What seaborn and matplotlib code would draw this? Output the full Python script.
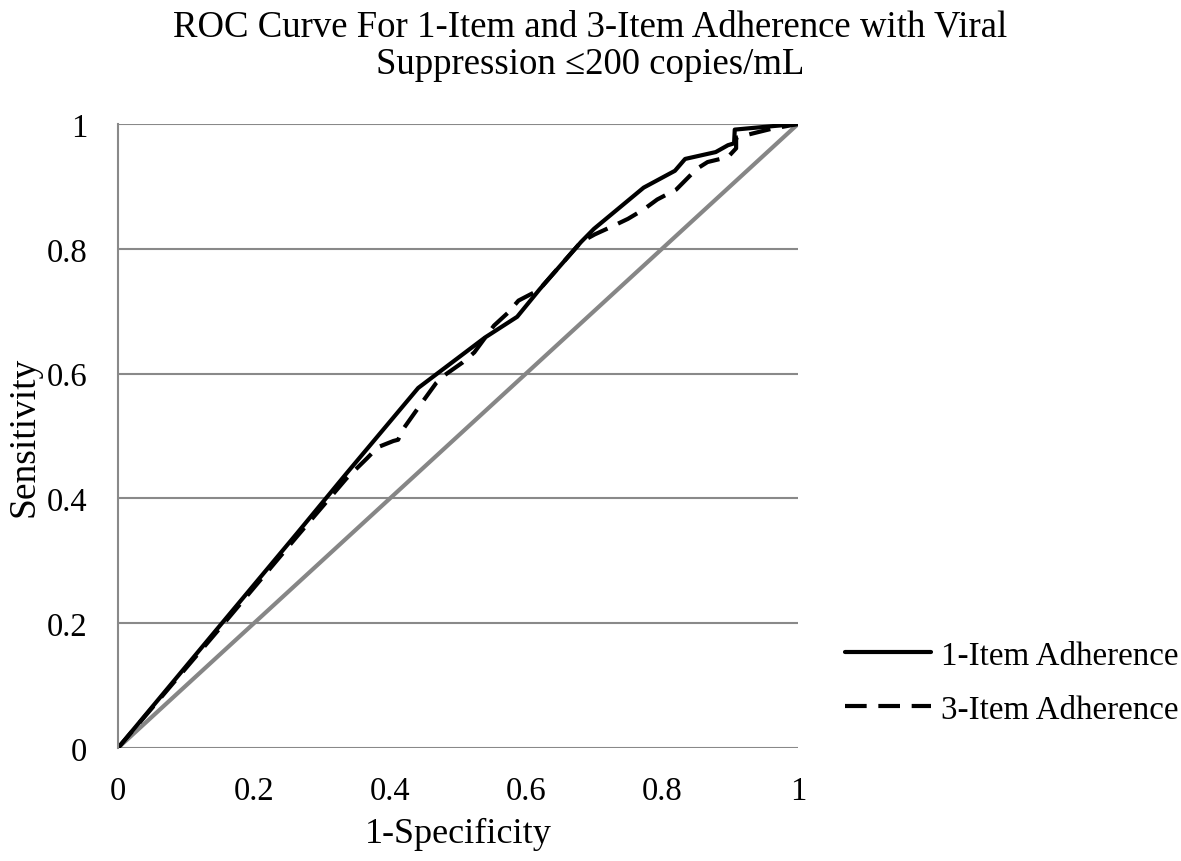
import numpy as np
import pandas as pd
import matplotlib.pyplot as plt
import seaborn as sns

# ROC points
fpr_1item = [0, 0.146, 0.264, 0.336, 0.4415, 0.540, 0.587, 0.620, 0.681, 0.700,
             0.773, 0.819, 0.834, 0.879, 0.897, 0.906, 0.907, 0.967, 1.0]
tpr_1item = [0, 0.191, 0.345, 0.440, 0.577, 0.658, 0.691, 0.735, 0.811, 0.832,
             0.898, 0.925, 0.944, 0.955, 0.966, 0.969, 0.991, 0.997, 1.0]

fpr_3item = [0, 0.146, 0.264, 0.336, 0.366, 0.382, 0.405, 0.412, 0.418, 0.448,
             0.468, 0.481, 0.507, 0.524, 0.553, 0.573, 0.589, 0.619, 0.681, 0.701,
             0.727, 0.750, 0.773, 0.793, 0.821, 0.851, 0.867, 0.897, 0.909, 0.909,
             0.934, 0.960, 1.0]
tpr_3item = [0, 0.187, 0.340, 0.432, 0.464, 0.482, 0.492, 0.494, 0.509, 0.555,
             0.585, 0.598, 0.618, 0.634, 0.677, 0.697, 0.717, 0.734, 0.811, 0.823,
             0.836, 0.848, 0.863, 0.879, 0.895, 0.928, 0.939, 0.947, 0.961, 0.978,
             0.985, 0.992, 1.0]

ref_line = [0, 1]
ticks = [0, 0.2, 0.4, 0.6, 0.8, 1]
tick_labels = ["0", "0.2", "0.4", "0.6", "0.8", "1"]

df = pd.concat([
    pd.DataFrame({"fpr": fpr_1item, "tpr": tpr_1item, "Measure": "1-Item Adherence"}),
    pd.DataFrame({"fpr": fpr_3item, "tpr": tpr_3item, "Measure": "3-Item Adherence"}),
], ignore_index=True)

sns.set_style("white")
plt.rcParams["font.family"] = ["Liberation Serif", "DejaVu Serif"]
for key in ["text.color", "axes.labelcolor", "xtick.color", "ytick.color"]:
    plt.rcParams[key] = "black"

fig = plt.figure(figsize=(11.81, 8.62), dpi=100)
ax = fig.add_axes([0.0999, 0.1311, 0.5758, 0.7239])

grid_gray = "#898989"
for t in ticks:
    ax.axhline(t, color=grid_gray, lw=1.5, zorder=0)

sns.lineplot(x=ref_line, y=ref_line, color="#868686", lw=3, ax=ax, zorder=1)
sns.lineplot(data=df, x="fpr", y="tpr", hue="Measure", style="Measure",
             palette=["black", "black"],
             dashes={"1-Item Adherence": "", "3-Item Adherence": (5.2, 2.8)},
             sort=False, estimator=None, lw=3, ax=ax, zorder=2)

ax.set_xlim(0, 1)
ax.set_ylim(0, 1)
ax.set_xticks(ticks)
ax.set_xticklabels(tick_labels)
ax.set_yticks(ticks)
ax.set_yticklabels(tick_labels)
ax.tick_params(axis="both", labelsize=23.5, length=0)
ax.tick_params(axis="x", pad=20)
ax.tick_params(axis="y", pad=22)

for s in ["top", "right", "bottom"]:
    ax.spines[s].set_visible(False)
ax.spines["left"].set_color(grid_gray)
ax.spines["left"].set_linewidth(1.5)

ax.set_xlabel("1-Specificity", fontsize=26, labelpad=8)
ax.set_ylabel("Sensitivity", fontsize=27, labelpad=4)
fig.text(0.5, 1 - 10 / 862,
         "ROC Curve For 1-Item and 3-Item Adherence with Viral\nSuppression \u2264200 copies/mL",
         ha="center", va="top", fontsize=26.5, linespacing=1.12)

ax.legend(loc="center left", bbox_to_anchor=(845 / 1181, 1 - 683.5 / 862),
          bbox_transform=fig.transFigure, frameon=False, borderpad=0, borderaxespad=0,
          fontsize=23.8, handlelength=2.6, handletextpad=0.3, labelspacing=0.7)

fig.savefig("out.png", dpi=100)
